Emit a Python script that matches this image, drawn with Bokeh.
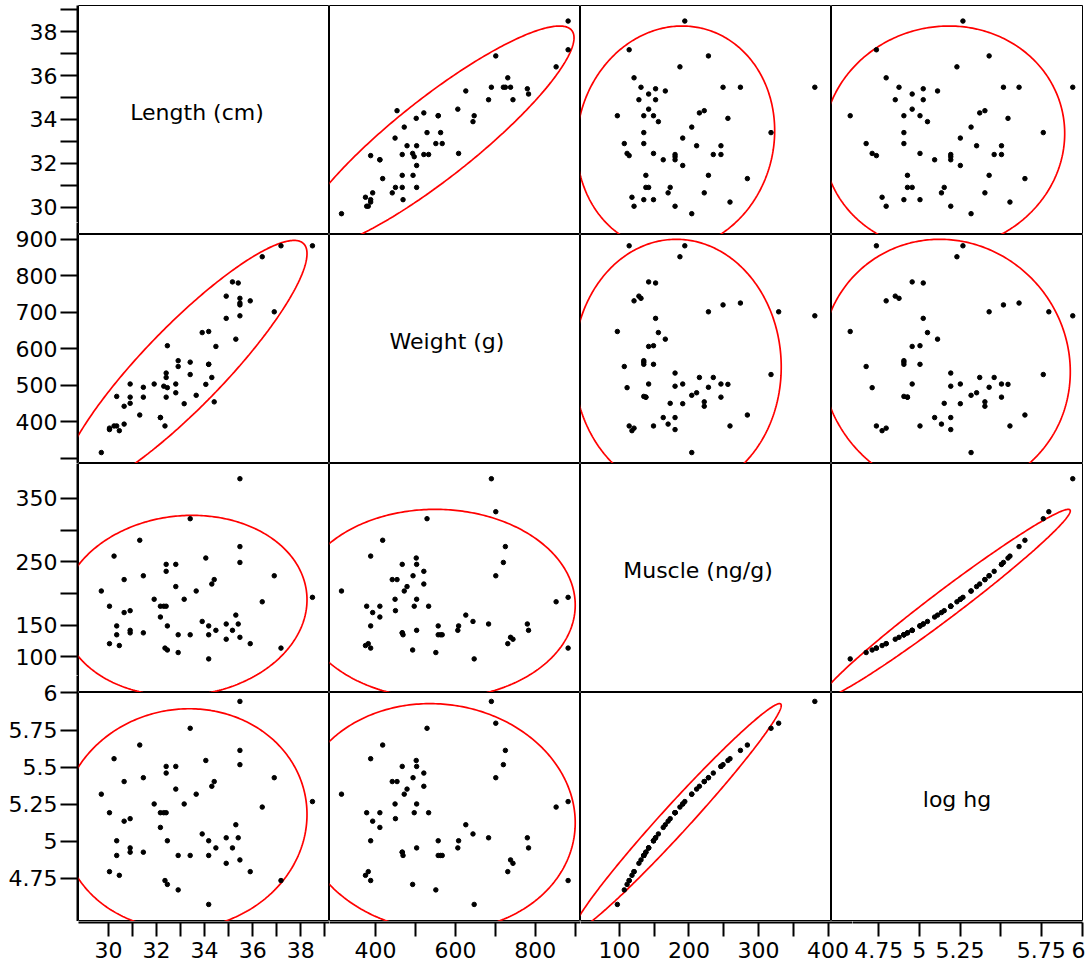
import numpy as np
from bokeh.plotting import figure
from bokeh.layouts import gridplot, row, column
from bokeh.models import FixedTicker, Range1d, Label, Spacer
from bokeh.embed import file_html
from bokeh.resources import INLINE

nan = float("nan")

# Fish measurements (one entry per fish; the last fish has no recorded length)
length_cm = [29.70, 30.04, 30.04, 30.23, 30.34, 30.45, 30.65, 32.35, 30.34, 30.65,
             30.90, 30.90, 30.90, 31.30, 31.45, 31.45, 31.90, 32.16, 32.16, 32.30,
             32.40, 32.40, 32.40, 32.45, 32.45, 32.80, 32.80, 32.90, 32.90, 33.15,
             33.40, 33.40, 33.65, 33.90, 34.05, 34.17, 34.17, 34.17, 34.30, 34.40,
             34.47, 34.90, 34.90, 35.16, 35.30, 35.40, 35.47, 35.47, 35.47, 35.47,
             35.90, 36.40, 36.90, 37.18, 38.49, nan]
weight_g = [315, 378, 382, 388, 388, 375, 393, 388, 469, 442,
            450, 467, 503, 418, 467, 494, 503, 411, 411, 497,
            467, 521, 533, 493, 608, 479, 503, 551, 567, 449,
            529, 563, 472, 644, 502, 557, 557, 647, 521, 454,
            606, 683, 744, 783, 626, 780, 690, 725, 720, 738,
            731, 852, 701, 882, 882, 701]
muscle_ngg = [204, 180, 121, 259, 149, 118, 170, 114, 135, 222,
              173, 138, 142, 284, 138, 228, 191, 180, 163, 180,
              246, 235, 180, 111, 149, 211, 246, 107, 135, 191,
              318, 135, 204, 156, 256, 149, 135, 97, 215, 222,
              142, 152, 128, 142, 166, 152, 381, 274, 249, 131,
              121, 187, 228, 114, 194, 329]
log_hg = [5.318, 5.193, 4.796, 5.557, 5.004, 4.771, 5.136, 4.736, 4.905, 5.403,
          5.153, 4.927, 4.956, 5.649, 4.927, 5.429, 5.252, 5.193, 5.094, 5.193,
          5.505, 5.460, 5.193, 4.710, 5.004, 5.352, 5.505, 4.673, 4.905, 5.252,
          5.762, 4.905, 5.318, 5.050, 5.545, 5.004, 4.905, 4.575, 5.371, 5.403,
          4.956, 5.024, 4.852, 4.956, 5.112, 5.024, 5.943, 5.613, 5.517, 4.875,
          4.796, 5.231, 5.429, 4.736, 5.268, 5.796]

names = ["Length (cm)", "Weight (g)", "Muscle (ng/g)", "log hg"]
columns = [length_cm, weight_g, muscle_ngg, log_hg]
axis_ranges = [(28.75, 39.2), (285, 913), (44, 405), (4.46, 6.003)]

# tick values and their labels ("" = unlabeled tick) for the left and bottom axes
left_ticks = [
    {30: "30", 31: "", 32: "32", 33: "", 34: "34", 35: "", 36: "36", 37: "", 38: "38", 39: ""},
    {300: "", 400: "400", 500: "500", 600: "600", 700: "700", 800: "800", 900: "900"},
    {100: "100", 150: "150", 200: "", 250: "250", 300: "", 350: "350"},
    {4.75: "4.75", 5.0: "5", 5.25: "5.25", 5.5: "5.5", 5.75: "5.75", 6.0: "6"},
]
bottom_ticks = [
    {30: "30", 31: "", 32: "32", 33: "", 34: "34", 35: "", 36: "36", 37: "", 38: "38", 39: ""},
    {400: "400", 500: "", 600: "600", 700: "", 800: "800", 900: ""},
    {100: "100", 150: "", 200: "200", 250: "", 300: "300", 350: "", 400: "400"},
    {4.75: "4.75", 5.0: "5", 5.25: "5.25", 5.5: "", 5.75: "5.75", 6.0: "6"},
]

FONT = "DejaVu Sans"
FW, FH = 251, 229          # panel frame size in px
PAD_TOP = 5
AXIS_W = 77
PANEL_X0 = AXIS_W + 1
NAME_X_OFFSETS = [-7, -8, -8, 0]   # nudges for the diagonal variable names

# pixel extents of the axis strips (chosen so no tick label straddles a strip edge)
left_strips = [(PAD_TOP, 222), (222, 463), (463, 675), (675, PAD_TOP + 4 * FH)]
bottom_strips = [(PANEL_X0, 329), (329, 580), (580, 852), (852, PANEL_X0 + 4 * FW)]


def density_ellipse(xs, ys, level=0.95, n=360):
    x = np.asarray(xs, float)
    y = np.asarray(ys, float)
    ok = ~(np.isnan(x) | np.isnan(y))
    x, y = x[ok], y[ok]
    cov = np.cov(x, y)
    c = -2.0 * np.log(1.0 - level)
    vals, vecs = np.linalg.eigh(cov)
    t = np.linspace(0, 2 * np.pi, n)
    circ = np.vstack([np.cos(t), np.sin(t)])
    pts = vecs @ (np.sqrt(vals * c)[:, None] * circ)
    return x.mean() + pts[0], y.mean() + pts[1]


def style_axis(ax, tickmap, tick_out=16, standoff=3):
    vals = sorted(tickmap)
    ax.ticker = FixedTicker(ticks=[float(v) for v in vals], minor_ticks=[])
    ax.major_label_overrides = {float(v): tickmap[v] for v in vals}
    ax.axis_line_width = 2
    ax.axis_line_color = "black"
    ax.major_tick_line_width = 2
    ax.major_tick_line_color = "black"
    ax.major_tick_out = tick_out
    ax.major_tick_in = 0
    ax.major_label_standoff = standoff
    ax.major_label_text_font = FONT
    ax.major_label_text_font_size = "22px"
    ax.major_label_text_color = "black"


def strip_range(lo, hi, p0, p1, a, b, flip=False):
    """Extend a panel's data range [lo, hi] (drawn over pixels p0..p1) to pixels a..b."""
    s = (hi - lo) / (p1 - p0)
    if flip:  # vertical: pixel rows grow downward, values grow upward
        return lo - (b - p1) * s, hi + (p0 - a) * s
    return lo - (p0 - a) * s, hi + (b - p1) * s


# --- scatterplot panels ---
panel_rows = []
for i in range(4):
    prow = []
    for j in range(4):
        p = figure(
            frame_width=FW, frame_height=FH,
            x_range=Range1d(*axis_ranges[j]), y_range=Range1d(*axis_ranges[i]),
            x_axis_location=None, y_axis_location=None,
            output_backend="svg", toolbar_location=None,
            min_border_left=0, min_border_right=1 if j == 3 else 0,
            min_border_top=PAD_TOP if i == 0 else 0, min_border_bottom=0,
            background_fill_color="white", border_fill_color="white",
            outline_line_color="black", outline_line_width=1,
        )
        p.xgrid.visible = False
        p.ygrid.visible = False
        if i == j:
            lo_x, hi_x = axis_ranges[j]
            lo_y, hi_y = axis_ranges[i]
            p.add_layout(Label(
                x=(lo_x + hi_x) / 2, y=(lo_y + hi_y) / 2,
                x_offset=NAME_X_OFFSETS[i], y_offset=8,
                text=names[i], text_align="center", text_baseline="middle",
                text_font=FONT, text_font_size="22px", text_color="black",
            ))
        else:
            ex, ey = density_ellipse(columns[j], columns[i])
            p.line(ex, ey, line_color="red", line_width=1.7)
            p.scatter(np.asarray(columns[j], float), np.asarray(columns[i], float),
                      marker="circle", size=4.5, fill_color="black", line_color="black")
        prow.append(p)
    panel_rows.append(prow)

panels = gridplot(panel_rows, toolbar_location=None)

# --- left axes, one strip per row variable ---
left_figs = []
for i in range(4):
    a, b = left_strips[i]
    p0, p1 = PAD_TOP + FH * i, PAD_TOP + FH * (i + 1)
    lo, hi = strip_range(*axis_ranges[i], p0, p1, a, b, flip=True)
    f = figure(
        frame_width=1, frame_height=b - a,
        x_range=Range1d(0, 1), y_range=Range1d(lo, hi),
        x_axis_location=None, y_axis_location="left",
        output_backend="svg", toolbar_location=None,
        min_border_left=AXIS_W, min_border_right=0,
        min_border_top=PAD_TOP if i == 0 else 0, min_border_bottom=0,
        background_fill_color="white", border_fill_color="white",
        outline_line_color=None,
    )
    f.xgrid.visible = False
    f.ygrid.visible = False
    style_axis(f.yaxis[0], left_ticks[i], tick_out=17, standoff=3)
    left_figs.append(f)

# --- bottom axes, one strip per column variable ---
bottom_figs = []
for j in range(4):
    a, b = bottom_strips[j]
    p0, p1 = PANEL_X0 + FW * j, PANEL_X0 + FW * (j + 1)
    lo, hi = strip_range(*axis_ranges[j], p0, p1, a, b)
    f = figure(
        frame_width=b - a, frame_height=1,
        x_range=Range1d(lo, hi), y_range=Range1d(0, 1),
        x_axis_location="below", y_axis_location=None,
        output_backend="svg", toolbar_location=None,
        min_border_left=0, min_border_right=3 if j == 3 else 0,
        min_border_top=0, min_border_bottom=40,
        background_fill_color="white", border_fill_color="white",
        outline_line_color=None,
    )
    f.xgrid.visible = False
    f.ygrid.visible = False
    style_axis(f.xaxis[0], bottom_ticks[j], tick_out=14, standoff=5)
    bottom_figs.append(f)

layout = column(
    row(column(*left_figs), panels),
    row(Spacer(width=PANEL_X0, height=40), *bottom_figs),
)

open("out.html", "w").write(file_html(layout, INLINE))
